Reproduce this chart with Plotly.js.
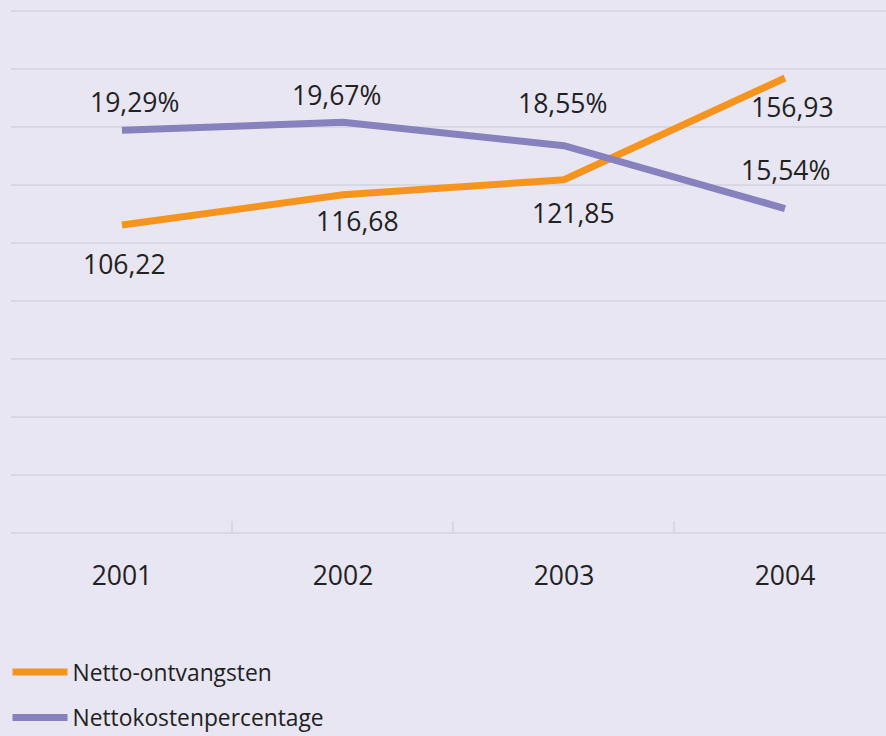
<!DOCTYPE html>
<html>
<head>
<meta charset="utf-8">
<script src="https://cdn.plot.ly/plotly-3.0.1.min.js"></script>
<style>html,body{margin:0;padding:0;background:#e8e6f2;}#chart{width:886px;height:736px;}</style>
</head>
<body>
<div id="chart"></div>
<script>
// ---- data ----
var years = ['2001', '2002', '2003', '2004'];
var nettoOntvangsten = [106.22, 116.68, 121.85, 156.93];
var nettoKostenPct = [19.29, 19.67, 18.55, 15.54];
var labelsOntvangsten = ['106,22', '116,68', '121,85', '156,93'];
var labelsKostenPct = ['19,29%', '19,67%', '18,55%', '15,54%'];
var seriesNames = ['Netto-ontvangsten', 'Nettokostenpercentage'];

// ---- label offsets (pixels) ----
var offOntv = [[3, -39], [15, -26], [10, -33], [7, -29]];
var offPct = [[13, 28], [-6, 27], [-1, 43], [0, 39]];

var bg = '#e8e6f2';
var grid = '#d9d7e2';
var orange = '#f7941d';
var purple = '#8781bd';
var txt = '#222222';
var fontFam = 'Open Sans, Noto Sans, sans-serif';

var traces = [
  {x: years, y: nettoOntvangsten, type: 'scatter', mode: 'lines', name: seriesNames[0],
   line: {color: orange, width: 7}, yaxis: 'y', legendgroup: 'a'},
  {x: years, y: nettoKostenPct, type: 'scatter', mode: 'lines', name: seriesNames[1],
   line: {color: purple, width: 7}, yaxis: 'y2', legendgroup: 'b'}
];

var annotations = [];
years.forEach(function (yr, i) {
  annotations.push({x: i, y: nettoOntvangsten[i], xref: 'x', yref: 'y', text: labelsOntvangsten[i],
    showarrow: false, xshift: offOntv[i][0], yshift: offOntv[i][1],
    font: {family: fontFam, size: 26.5, color: txt}});
  annotations.push({x: i, y: nettoKostenPct[i], xref: 'x', yref: 'y2', text: labelsKostenPct[i],
    showarrow: false, xshift: offPct[i][0], yshift: offPct[i][1],
    font: {family: fontFam, size: 26.5, color: txt}});
});

var layout = {
  width: 886, height: 736,
  paper_bgcolor: bg, plot_bgcolor: bg,
  margin: {l: 11, r: 0, t: 10, b: 203},
  font: {family: fontFam, color: txt},
  xaxis: {type: 'category', range: [-0.502, 3.457], showgrid: false, zeroline: false,
    showline: false, ticks: 'inside', tickson: 'boundaries', ticklen: 12, tickwidth: 2,
    tickcolor: grid, tickfont: {family: fontFam, size: 26.5, color: txt}, ticklabelstandoff: 24},
  yaxis: {range: [0, 180.4], tickvals: [0, 20, 40, 60, 80, 100, 120, 140, 160, 180],
    showgrid: true, gridcolor: grid, gridwidth: 2,
    zeroline: true, zerolinecolor: grid, zerolinewidth: 2, showticklabels: false, ticks: '',
    showline: false},
  yaxis2: {range: [0, 25.05], overlaying: 'y', side: 'right', showgrid: false, zeroline: false,
    showticklabels: false, ticks: '', showline: false},
  showlegend: true,
  legend: {x: -0.004, xanchor: 'left', y: 0.116, yref: 'container', yanchor: 'top', orientation: 'v',
    bgcolor: 'rgba(0,0,0,0)', font: {family: fontFam, size: 22.8, color: txt},
    itemwidth: 55, tracegroupgap: 13, traceorder: 'grouped'},
  annotations: annotations
};

Plotly.newPlot('chart', traces, layout, {displayModeBar: false, staticPlot: true}).catch(function (e) {
  document.body.insertAdjacentHTML('beforeend', '<pre>' + e + '</pre>');
});
</script>
</body>
</html>
